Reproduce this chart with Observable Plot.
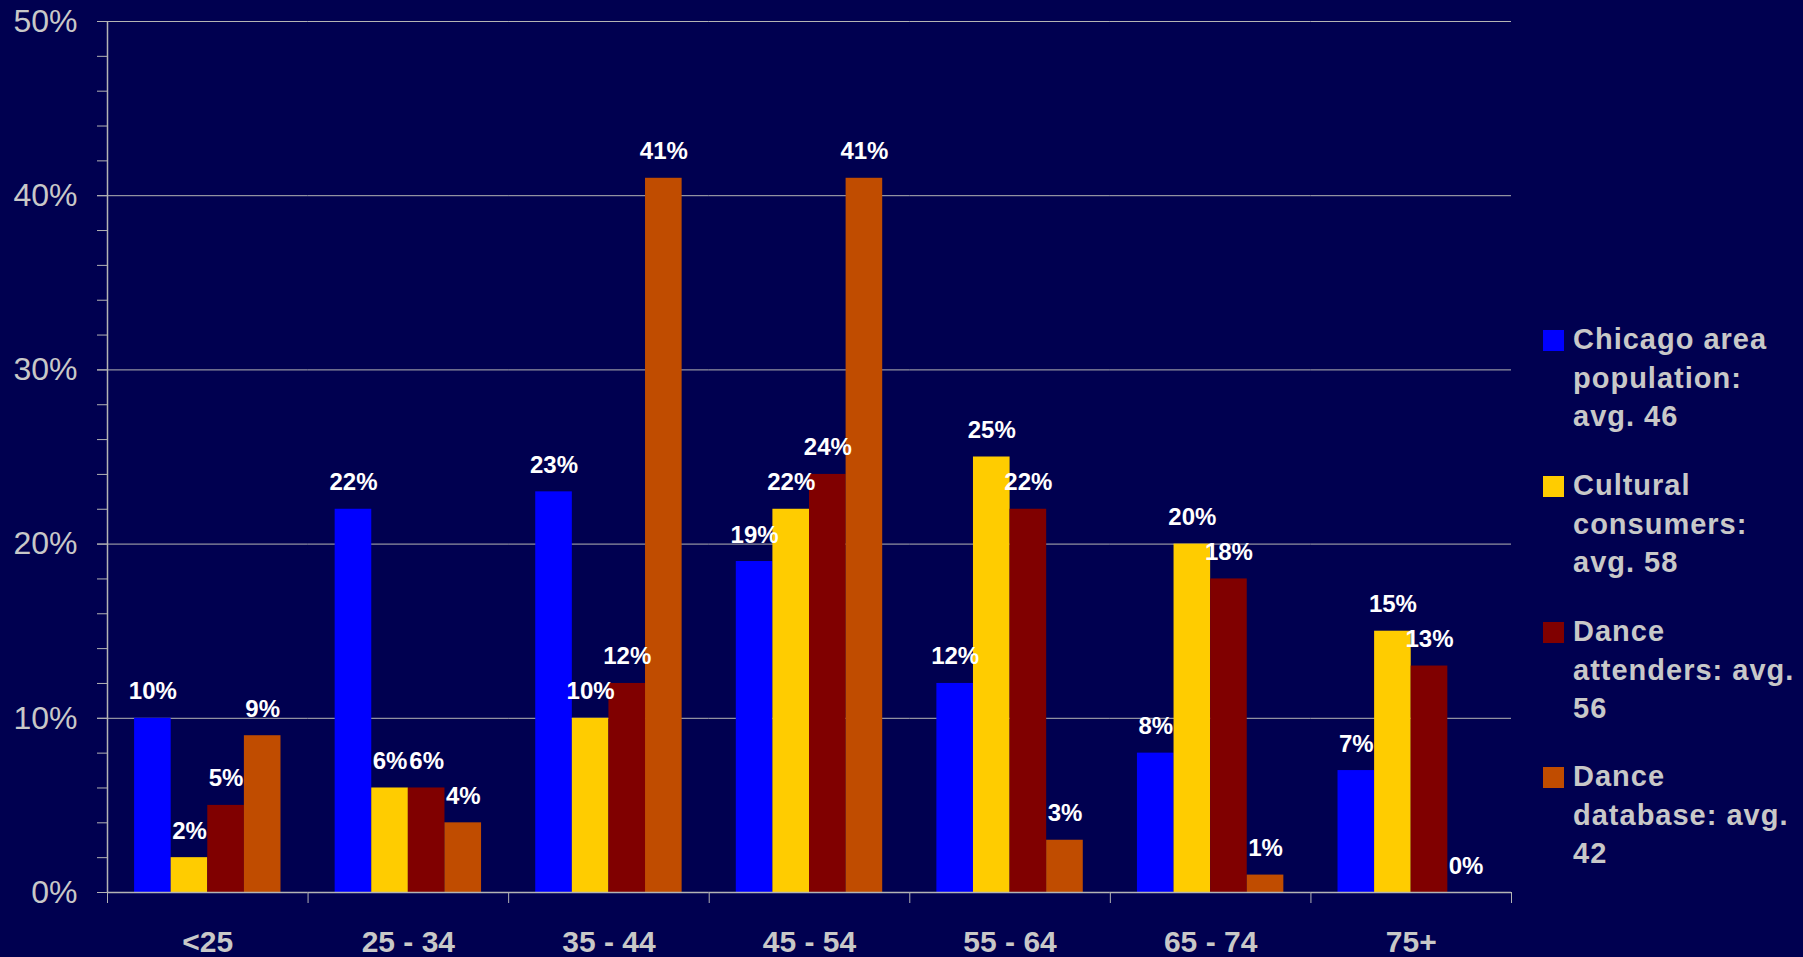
<!DOCTYPE html>
<html>
<head>
<meta charset="utf-8">
<script src="https://cdn.jsdelivr.net/npm/d3@7"></script>
<script src="https://cdn.jsdelivr.net/npm/@observablehq/plot@0.6"></script>
<style>
  html, body { margin: 0; padding: 0; background: #000050; width: 1803px; height: 957px; overflow: hidden; }
  #chart { position: absolute; left: 0; top: 0; }
  #legend { position: absolute; left: 0; top: 0; font-family: "Liberation Sans", Arial, sans-serif; }
  .entry { position: absolute; left: 1543px; white-space: nowrap; }
  .sw { position: absolute; left: 0; width: 21px; height: 21px; }
  .lt { position: absolute; left: 30px; top: 0; font-size: 29px; font-weight: bold; color: #c8c8c8; line-height: 38.5px; letter-spacing: 1px; }
</style>
</head>
<body>
<div id="chart"></div>
<div id="legend"></div>
<script>
// ---- data ----
const ageGroups = ["<25", "25 - 34", "35 - 44", "45 - 54", "55 - 64", "65 - 74", "75+"];
const seriesNames = [
  "Chicago area population: avg. 46",
  "Cultural consumers: avg. 58",
  "Dance attenders: avg. 56",
  "Dance database: avg. 42"
];
const legendLines = [
  ["Chicago area", "population:", "avg. 46"],
  ["Cultural", "consumers:", "avg. 58"],
  ["Dance", "attenders: avg.", "56"],
  ["Dance", "database: avg.", "42"]
];
const chicagoValues   = [10, 22, 23, 19, 12, 8, 7];
const culturalValues  = [2, 6, 10, 22, 25, 20, 15];
const attenderValues  = [5, 6, 12, 24, 22, 18, 13];
const databaseValues  = [9, 4, 41, 41, 3, 1, 0];
const seriesColors = ["#0000ff", "#ffcc00", "#800000", "#c04c00"];
const yMajorTicks = [0, 10, 20, 30, 40, 50];
const yMinorTicks = d3.range(0, 51, 2);

const valuesBySeries = [chicagoValues, culturalValues, attenderValues, databaseValues];
const rows = [];
ageGroups.forEach((age, i) => {
  seriesNames.forEach((s, j) => rows.push({age, series: s, value: valuesBySeries[j][i]}));
});

const W = 1803, H = 957;
const mL = 107, mR = 292, mT = 21, mB = 65;
const step = (W - mL - mR) / ageGroups.length;
const gridColor = "#b4b4b4";
const textGray = "#c8c8c8";
const font = "Liberation Sans, Arial, sans-serif";

const chart = Plot.plot({
  width: W,
  height: H,
  marginLeft: mL,
  marginRight: mR,
  marginTop: mT,
  marginBottom: mB,
  style: {background: "#000050", fontFamily: font, overflow: "visible"},
  fx: {domain: ageGroups, padding: 0, round: false, label: null},
  x: {domain: seriesNames, paddingInner: 0, paddingOuter: 0.74, round: false, axis: null},
  y: {domain: [0, 50], label: null},
  color: {domain: seriesNames, range: seriesColors},
  marks: [
    Plot.gridY({ticks: yMajorTicks.slice(1), stroke: gridColor, strokeOpacity: 1, strokeWidth: 1}),
    Plot.barY(rows, {fx: "age", x: "series", y: "value", fill: "series", inset: 0}),
    Plot.ruleY([0], {stroke: gridColor, strokeWidth: 1.5}),
    Plot.text(rows, {
      fx: "age", x: "series", y: "value", text: d => d.value + "%",
      dy: -19, lineAnchor: "bottom", fill: "white", fontSize: 24, fontWeight: "bold"
    }),
    // y axis: minor and major ticks
    Plot.axisY({ticks: yMinorTicks, tickSize: 10, tickFormat: () => "", stroke: gridColor, strokeOpacity: 1}),
    Plot.axisY({ticks: yMajorTicks, tickSize: 10, tickPadding: 20, tickFormat: d => d + "%",
      fontSize: 32, color: textGray, stroke: gridColor, strokeOpacity: 1, label: null}),
    // vertical axis line
    Plot.gridFx({ticks: [ageGroups[0]], dx: -step / 2, stroke: gridColor, strokeOpacity: 1, strokeWidth: 1.5}),
    // category boundary ticks
    Plot.axisFx({anchor: "bottom", tickSize: 11, dx: -step / 2, tickFormat: () => "", stroke: gridColor, strokeOpacity: 1, label: null}),
    Plot.axisFx({anchor: "bottom", ticks: [ageGroups[ageGroups.length - 1]], tickSize: 11, dx: step / 2, tickFormat: () => "", stroke: gridColor, strokeOpacity: 1, label: null}),
    // category labels
    Plot.axisFx({anchor: "bottom", tickSize: 0, tickPadding: 38, fontSize: 30, fontWeight: "bold", color: textGray, label: null})
  ]
});
document.getElementById("chart").appendChild(chart);

// legend (HTML)
const legend = document.getElementById("legend");
const entryTops = [320, 466, 612, 757];
seriesNames.forEach((s, i) => {
  const e = document.createElement("div");
  e.className = "entry";
  e.style.top = entryTops[i] + "px";
  const sw = document.createElement("div");
  sw.className = "sw";
  sw.style.background = seriesColors[i];
  sw.style.top = "10px";
  e.appendChild(sw);
  const t = document.createElement("div");
  t.className = "lt";
  t.innerHTML = legendLines[i].join("<br>");
  e.appendChild(t);
  legend.appendChild(e);
});
</script>
</body>
</html>
